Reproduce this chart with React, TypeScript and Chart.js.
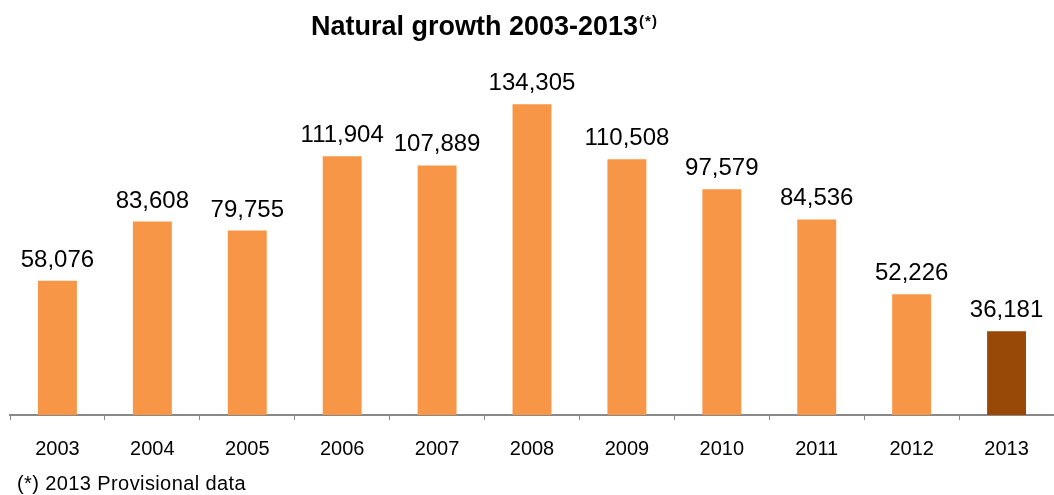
import React, { useEffect, useRef } from "react";
import { Chart, registerables } from "chart.js";

Chart.register(...registerables);

const categories = ["2003", "2004", "2005", "2006", "2007", "2008", "2009", "2010", "2011", "2012", "2013"];
const values = [58076, 83608, 79755, 111904, 107889, 134305, 110508, 97579, 84536, 52226, 36181];
const barColors = ["#F79646", "#F79646", "#F79646", "#F79646", "#F79646", "#F79646", "#F79646", "#F79646", "#F79646", "#F79646", "#984807"];
const titleText = "Natural growth 2003-2013";
const titleSup = "(*)";
const footnote = "(*) 2013 Provisional data";

const FONT = "'Liberation Sans', Arial, sans-serif";

const textPlugin = {
  id: "textPlugin",
  afterDatasetsDraw(chart: any) {
    const ctx = chart.ctx;
    const meta = chart.getDatasetMeta(0);
    ctx.save();
    ctx.fillStyle = "#000";
    ctx.font = `24px ${FONT}`;
    ctx.textAlign = "center";
    ctx.textBaseline = "alphabetic";
    meta.data.forEach((bar: any, i: number) => {
      ctx.fillText(values[i].toLocaleString("en-US"), bar.x, bar.y - 14);
    });
    // title
    ctx.textAlign = "left";
    ctx.font = `bold 27px ${FONT}`;
    ctx.fillText(titleText, 311, 35);
    const w = ctx.measureText(titleText).width;
    ctx.font = `bold 15px ${FONT}`;
    (ctx as any).letterSpacing = "1px";
    ctx.fillText(titleSup, 311 + w + 1, 26);
    // footnote
    ctx.font = `20px ${FONT}`;
    (ctx as any).letterSpacing = "0.4px";
    ctx.fillText(footnote, 17, 490);
    ctx.restore();
  },
};

export default function App() {
  const ref = useRef<HTMLCanvasElement>(null);
  useEffect(() => {
    document.body.style.margin = "0";
    const chart = new Chart(ref.current!, {
      type: "bar",
      data: {
        labels: categories,
        datasets: [
          {
            data: values,
            backgroundColor: barColors,
            borderWidth: 0,
            barPercentage: 0.41,
            categoryPercentage: 1,
          },
        ],
      },
      options: {
        responsive: false,
        animation: false,
        layout: { padding: { top: 68, left: 10, right: 0, bottom: 0 } },
        plugins: { legend: { display: false }, title: { display: false }, tooltip: { enabled: false } },
        scales: {
          x: {
            afterFit: (s: any) => {
              s.height = 80;
            },
            grid: {
              offset: true,
              drawOnChartArea: false,
              drawTicks: true,
              tickLength: 5,
              color: "#888888",
              lineWidth: 1,
            },
            border: { display: true, color: "#888888", width: 2 },
            ticks: { color: "#000", font: { family: FONT, size: 20 }, padding: 17 },
          },
          y: {
            display: false,
            min: 0,
            max: 150000,
          },
        },
      },
      plugins: [textPlugin],
    });
    return () => chart.destroy();
  }, []);
  return <canvas ref={ref} width={1054} height={495} style={{ display: "block" }} />;
}
